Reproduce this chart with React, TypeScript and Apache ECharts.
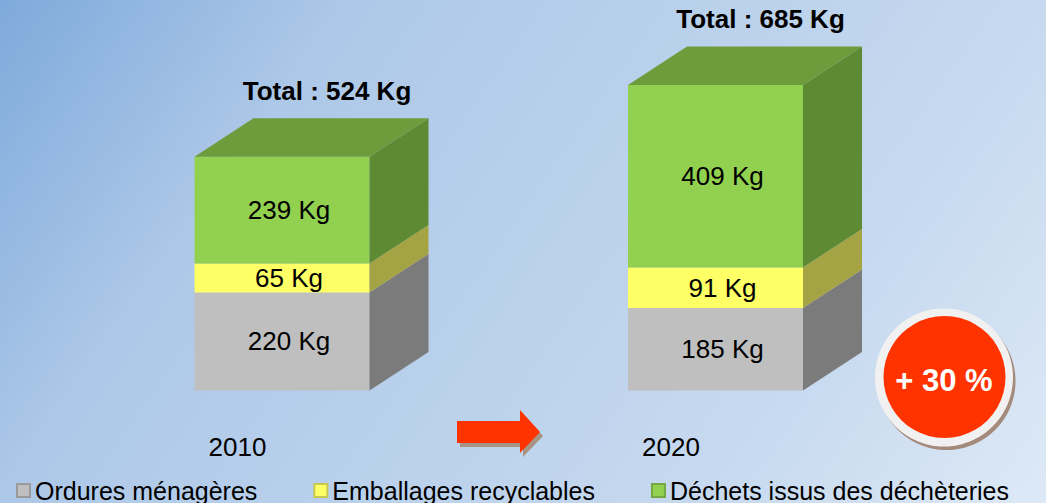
import React, { useEffect, useRef } from "react";
import * as echarts from "echarts";

const categories = ["2010", "2020"];
const seriesNames = ["Ordures ménagères", "Emballages recyclables", "Déchets issus des déchèteries"];
const ordures = [220, 185];
const emballages = [65, 91];
const decheteries = [239, 409];
const totals = [524, 685];
const evolutionLabel = "+ 30 %";

const FONT = "'Liberation Sans', Arial, sans-serif";
const DX = 59;
const DY = 38.5;

const faceColors = [
  { front: "#bfbfbf", side: "#7b7b7b", top: "#a0a0a0", border: "#9a9a9a" },
  { front: "#ffff66", side: "#a5a444", top: "#cccc55", border: "#c8c850" },
  { front: "#92d050", side: "#5d8a32", top: "#6e9b3b", border: "#74a840" },
];

export default function App() {
  const ref = useRef<HTMLDivElement>(null);

  useEffect(() => {
    if (!ref.current) return;
    const chart = echarts.init(ref.current, null, { renderer: "svg" });

    const layers = [ordures, emballages, decheteries];
    const bases = categories.map(() => 0);
    const seriesData = layers.map((layer) =>
      layer.map((v, i) => {
        const lo = bases[i];
        bases[i] += v;
        return [i, lo, lo + v, v];
      })
    );

    const makeRender = (layerIndex: number, isTop: boolean) => (params: any, api: any) => {
      const idx = api.value(0);
      const lo = api.value(1);
      const hi = api.value(2);
      const v = api.value(3);
      const p0 = api.coord([idx, lo]);
      const p1 = api.coord([idx, hi]);
      const band = api.size([1, 0])[0];
      const w = band * 0.4037;
      const x0 = p0[0] - w / 2;
      const x1 = x0 + w;
      const yb = p0[1];
      const yt = p1[1];
      const c = faceColors[layerIndex];
      const children: any[] = [
        {
          type: "rect",
          shape: { x: x0, y: yt, width: w, height: yb - yt },
          style: { fill: c.front },
        },
        {
          type: "polygon",
          shape: { points: [[x1, yb], [x1 + DX, yb - DY], [x1 + DX, yt - DY], [x1, yt]] },
          style: { fill: c.side },
        },
      ];
      if (isTop) {
        children.push({
          type: "polygon",
          shape: { points: [[x0, yt], [x0 + DX, yt - DY], [x1 + DX, yt - DY], [x1, yt]] },
          style: { fill: c.top },
        });
      }
      children.push({
        type: "text",
        x: p0[0] + 7,
        y: (yt + yb) / 2,
        style: {
          text: `${v} Kg`,
          fontSize: 26,
          fontFamily: FONT,
          fill: "#000",
          align: "center",
          verticalAlign: "middle",
        },
      });
      return { type: "group", children };
    };

    const series: any[] = seriesNames.map((name, li) => ({
      name,
      type: "custom",
      renderItem: makeRender(li, li === seriesNames.length - 1),
      data: seriesData[li],
      encode: { x: 0, y: [1, 2] },
      itemStyle: { color: faceColors[li].front, borderColor: faceColors[li].border, borderWidth: 1 },
      clip: false,
    }));

    series.push({
      name: "Total",
      type: "custom",
      data: totals.map((t, i) => [i, t]),
      encode: { x: 0, y: 1 },
      clip: false,
      renderItem: (params: any, api: any) => {
        const p = api.coord([api.value(0), api.value(1)]);
        return {
          type: "text",
          x: p[0] + 45,
          y: p[1] - 66,
          style: {
            text: `Total : ${api.value(1)} Kg`,
            fontSize: 26,
            fontWeight: "bold",
            fontFamily: FONT,
            fill: "#000",
            align: "center",
            verticalAlign: "middle",
          },
        };
      },
    });

    const arrow = [[457, 421], [520, 421], [520, 410], [540, 432], [520, 453], [520, 443], [457, 443]];

    chart.setOption({
      animation: false,
      backgroundColor: "transparent",
      grid: { left: 65.25, width: 867, top: 33.7, height: 356.8 },
      xAxis: {
        type: "category",
        data: categories,
        axisLine: { show: false },
        axisTick: { show: false },
        splitLine: { show: false },
        axisLabel: {
          fontSize: 26,
          lineHeight: 26,
          fontFamily: FONT,
          color: "#000",
          margin: 43,
          padding: [0, 89, 0, 0],
        },
      },
      yAxis: { type: "value", min: 0, max: 800, show: false },
      legend: {
        data: seriesNames,
        left: 11,
        top: 473,
        itemWidth: 13,
        itemHeight: 13,
        itemGap: 56,
        icon: "rect",
        textStyle: { fontSize: 25, fontFamily: FONT, color: "#000" },
      },
      series,
      graphic: [
        {
          type: "polygon",
          shape: { points: arrow.map(([x, y]) => [x + 3, y + 4]) },
          style: { fill: "#a89484" },
        },
        { type: "polygon", shape: { points: arrow }, style: { fill: "#ff3300" } },
        { type: "circle", shape: { cx: 946.5, cy: 381, r: 69 }, style: { fill: "#a38a7a" } },
        { type: "circle", shape: { cx: 944, cy: 377.5, r: 69 }, style: { fill: "#f1f1f1" } },
        { type: "circle", shape: { cx: 944.5, cy: 377, r: 61 }, style: { fill: "#ff3300" } },
        {
          type: "text",
          x: 944,
          y: 380,
          style: {
            text: evolutionLabel,
            fontSize: 31,
            fontWeight: "bold",
            fontFamily: FONT,
            fill: "#fff",
            align: "center",
            verticalAlign: "middle",
          },
        },
      ],
    });

    return () => chart.dispose();
  }, []);

  return (
    <div
      ref={ref}
      style={{
        position: "fixed",
        left: 0,
        top: 0,
        width: 1046,
        height: 503,
        background:
          "linear-gradient(125deg, #7eaadb 0%, #adc8e8 25%, #c6d9ef 75%, #dde9f6 100%)",
      }}
    />
  );
}
